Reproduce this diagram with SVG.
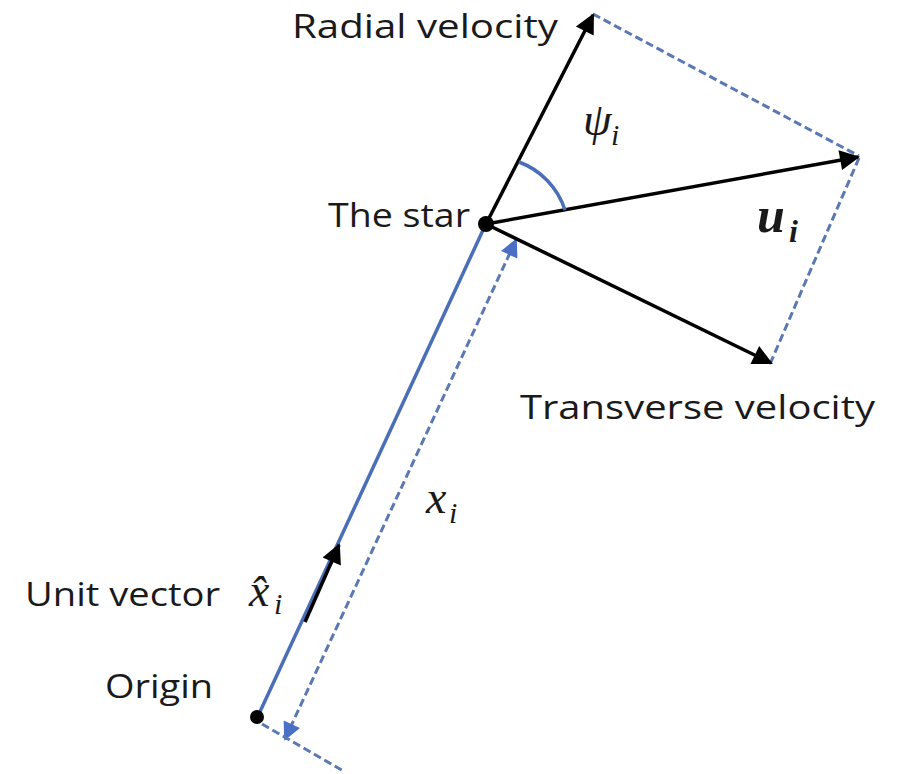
<svg xmlns="http://www.w3.org/2000/svg" width="897" height="774" viewBox="0 0 897 774">
<defs>
<style>
.lbl{font-family:"Open Sans","Liberation Sans",sans-serif;font-size:33px;fill:#1a1a1a}
.math{font-family:"Liberation Serif","DejaVu Serif",serif;font-style:italic;fill:#1a1a1a}
.vec{stroke:#000;stroke-width:3.5;fill:none}
.dash{stroke:#5a78b4;stroke-width:3;stroke-dasharray:8 4;fill:none}
.blue{stroke:#4a6fb8;stroke-width:3.5;fill:none}
</style>
<marker id="ah" viewBox="0 0 10 10" refX="9" refY="5" markerWidth="24" markerHeight="20" markerUnits="userSpaceOnUse" orient="auto">
<path d="M0,0 L10,5 L0,10 Z" fill="#000"/>
</marker>
<marker id="bh" viewBox="0 0 10 10" refX="9" refY="5" markerWidth="23" markerHeight="18" markerUnits="userSpaceOnUse" orient="auto-start-reverse">
<path d="M0,0 L10,5 L0,10 Z" fill="#4a6fc4"/>
</marker>
</defs>
<rect width="897" height="774" fill="#fff"/>
<g id="connectors">
<line class="blue" x1="258" y1="716" x2="484" y2="228"/>
<line class="dash" x1="285" y1="739" x2="516" y2="240" marker-start="url(#bh)" marker-end="url(#bh)"/>
<line class="dash" x1="262" y1="724" x2="345" y2="772"/>
<line class="dash" x1="593" y1="14" x2="859" y2="156"/>
<line class="dash" x1="859" y1="158" x2="770" y2="364"/>
<line class="vec" x1="486" y1="224" x2="593" y2="15" marker-end="url(#ah)"/>
<line class="vec" x1="486" y1="224" x2="858" y2="157" marker-end="url(#ah)"/>
<line class="vec" x1="486" y1="224" x2="771" y2="363" marker-end="url(#ah)"/>
<line class="vec" x1="305" y1="622" x2="339" y2="545" stroke-width="5" marker-end="url(#ah)"/>
<path class="blue" d="M519,162 A76,76 0 0 1 565,210"/>
</g>
<g id="star">
<circle cx="486" cy="224" r="8" fill="#000"/>
<text class="lbl" x="328" y="227" textLength="142" lengthAdjust="spacingAndGlyphs">The star</text>
</g>
<g id="origin">
<circle cx="257" cy="717" r="7" fill="#000"/>
<text class="lbl" x="105" y="698" textLength="108" lengthAdjust="spacingAndGlyphs">Origin</text>
</g>
<g id="radial">
<text class="lbl" x="292" y="38" textLength="266" lengthAdjust="spacingAndGlyphs">Radial velocity</text>
</g>
<g id="transverse">
<text class="lbl" x="520" y="419" textLength="355" lengthAdjust="spacingAndGlyphs">Transverse velocity</text>
</g>
<g id="unit">
<text class="lbl" x="25" y="606" textLength="195" lengthAdjust="spacingAndGlyphs">Unit vector</text>
<text class="math" x="249" y="606" font-size="46">x&#x302;</text>
<text class="math" x="274" y="614" font-size="30">i</text>
</g>
<g id="psi">
<text class="math" x="583" y="135" font-size="46">ψ</text>
<text class="math" x="611" y="145" font-size="30">i</text>
</g>
<g id="u">
<text class="math" x="757" y="232" font-size="50" font-weight="bold">u</text>
<text class="math" x="789" y="242" font-size="32" font-weight="bold">i</text>
</g>
<g id="xi">
<text class="math" x="426" y="513" font-size="46">x</text>
<text class="math" x="449" y="523" font-size="30">i</text>
</g>
</svg>
